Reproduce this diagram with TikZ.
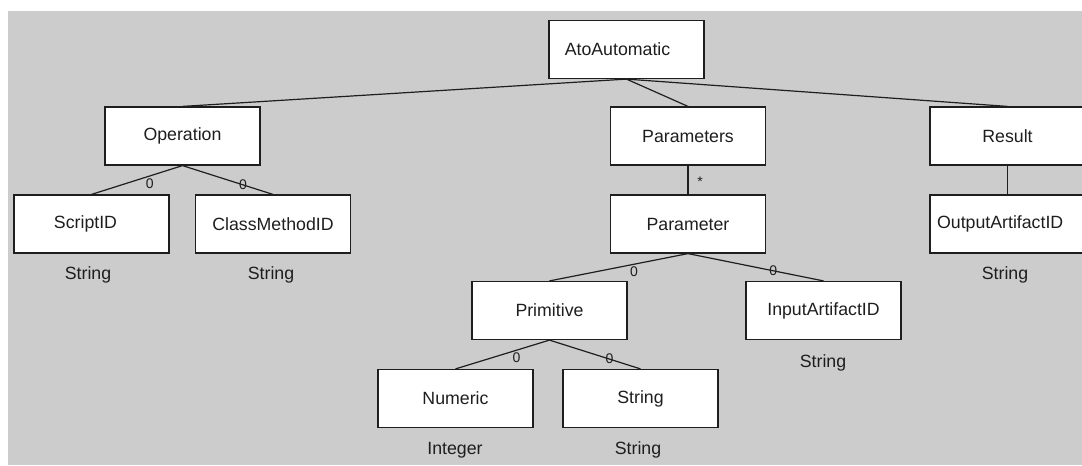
\documentclass[tikz,border=0pt]{standalone}
\usepackage{fontspec}
\setmainfont{Liberation Sans}
\definecolor{bggray}{RGB}{204,204,204}
\definecolor{ink}{RGB}{30,30,30}
\newcommand\textleftby[2]{\kern-#1\relax #2\kern#1\relax}
\begin{document}
\begin{tikzpicture}[x=0.75pt,y=-0.75pt,
  cls/.style={draw=ink, fill=white, line width=0.9pt, minimum width=116.25pt, minimum height=43.5pt,
    inner sep=0pt, text=ink, font=\fontsize{13.3}{16}\selectfont},
  typ/.style={text=ink, inner sep=0pt, font=\fontsize{13.3}{16}\selectfont},
  conn/.style={draw=ink, line width=0.9pt},
  mult/.style={text=ink, inner sep=0pt, font=\fontsize{10.5}{12}\selectfont}]
\useasboundingbox (0,0) rectangle (1082,465);
\fill[bggray] (8,11) rectangle (1082,465);
% boxes
\node[cls] (ato) at (626.5,49.5) {\textleftby{6.75pt}{AtoAutomatic}};
\node[cls] (op) at (182.5,136) {Operation};
\node[cls] (params) at (688,136) {Parameters};
\node[cls] (result) at (1007.5,136) {Result};
\node[cls] (script) at (91.5,224) {\textleftby{4.5pt}{ScriptID}};
\node[cls] (cmid) at (273,224) {ClassMethodID};
\node[cls] (param) at (688,224) {Parameter};
\node[cls] (output) at (1007.5,224) {\textleftby{5.5pt}{OutputArtifactID}};
\node[cls] (prim) at (549.5,310.5) {Primitive};
\node[cls] (input) at (823.5,310.5) {InputArtifactID};
\node[cls] (numeric) at (455.5,398.5) {Numeric};
\node[cls] (string) at (640.5,398.5) {String};
% type labels
\node[typ] (t1) at (88,275) {String};
\node[typ] (t2) at (271,275) {String};
\node[typ] (t3) at (1005,275) {String};
\node[typ] (t4) at (823,363) {String};
\node[typ] (t5) at (455,450) {Integer};
\node[typ] (t6) at (638,450) {String};
% connectors
\draw[conn] (ato.south) -- (op.north);
\draw[conn] (ato.south) -- (params.north);
\draw[conn] (ato.south) -- (result.north);
\draw[conn] (op.south) -- (script.north) node[mult, pos=0.36, yshift=-5.8pt] {0};
\draw[conn] (op.south) -- (cmid.north) node[mult, pos=0.67] {0};
\draw[conn] (params.south) -- (param.north) node[mult, pos=0.5, xshift=9pt, yshift=-1pt] {*};
\draw[conn] (result.south) -- (output.north);
\draw[conn] (param.south) -- (prim.north) node[mult, pos=0.39, yshift=-5.8pt] {0};
\draw[conn] (param.south) -- (input.north) node[mult, pos=0.63] {0};
\draw[conn] (prim.south) -- (numeric.north) node[mult, pos=0.35, yshift=-5.8pt] {0};
\draw[conn] (prim.south) -- (string.north) node[mult, pos=0.66] {0};
\end{tikzpicture}
\end{document}
